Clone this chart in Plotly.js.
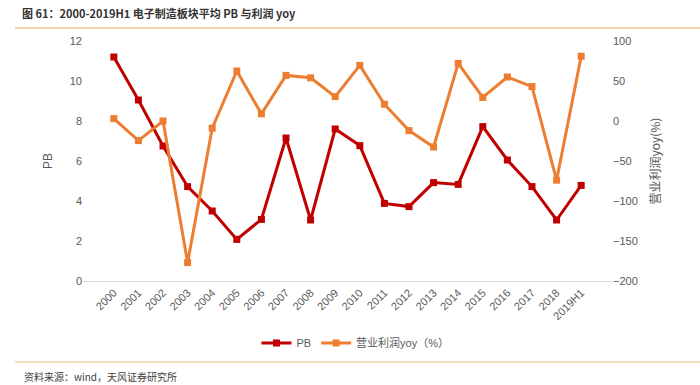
<!DOCTYPE html>
<html>
<head>
<meta charset="utf-8">
<script src="https://cdn.plot.ly/plotly-3.0.1.min.js"></script>
<style>html,body{margin:0;padding:0;background:#fff;}#chart{width:700px;height:385px;}</style>
</head>
<body>
<div id="chart"></div>
<script>
const years = ["2000","2001","2002","2003","2004","2005","2006","2007","2008","2009","2010","2011","2012","2013","2014","2015","2016","2017","2018","2019H1"];
const pbValues = [11.2, 9.05, 6.75, 4.72, 3.5, 2.08, 3.08, 7.15, 3.05, 7.6, 6.77, 3.88, 3.72, 4.92, 4.83, 7.72, 6.05, 4.72, 3.05, 4.78];
const profitYoy = [3, -24.5, 0, -177, -9, 62.5, 9, 57, 54, 30.5, 69.5, 21, -12, -32.5, 72, 29.5, 55, 43, -74, 81];

const textColor = '#595959';
const font = "'Liberation Sans', Arial, 'Noto Sans CJK SC', sans-serif";

const traces = [
  {
    x: years, y: pbValues, name: 'PB', type: 'scatter', mode: 'lines+markers',
    line: {color: '#C00000', width: 3},
    marker: {symbol: 'square', size: 7, color: '#C00000'},
    yaxis: 'y'
  },
  {
    x: years, y: profitYoy, name: '营业利润yoy（%）', type: 'scatter', mode: 'lines+markers',
    line: {color: '#ED7D31', width: 3},
    marker: {symbol: 'square', size: 7, color: '#ED7D31'},
    yaxis: 'y2'
  }
];

const layout = {
  width: 700, height: 385,
  margin: {l: 83, r: 88, t: 41, b: 104},
  paper_bgcolor: '#ffffff', plot_bgcolor: '#ffffff',
  font: {family: font, size: 11, color: textColor},
  showlegend: true,
  legend: {orientation: 'h', x: 0.515, xanchor: 'center', y: -0.258, yanchor: 'middle',
           font: {size: 11, color: textColor}, itemwidth: 30, tracegroupgap: 0},
  title: {text: '<b>图 61：2000-2019H1 电子制造板块平均 PB 与利润 yoy</b>',
          x: 22/700, xanchor: 'left', xref: 'container', y: 1 - 14/385, yref: 'container', yanchor: 'middle',
          font: {family: "'Noto Sans CJK SC', sans-serif", size: 11, color: '#333333'}},
  xaxis: {
    type: 'category', tickangle: -45, showgrid: false, zeroline: false,
    showline: true, linecolor: '#d9d9d9', linewidth: 1, ticks: '',
    tickfont: {size: 11, color: textColor}
  },
  yaxis: {
    range: [0, 12], dtick: 2, showgrid: false, zeroline: false, showline: false, ticks: '',
    tickfont: {size: 11, color: textColor},
    title: {text: 'PB', font: {size: 12, color: textColor}, standoff: 14}
  },
  yaxis2: {
    overlaying: 'y', side: 'right', range: [-200, 100], dtick: 50,
    showgrid: false, zeroline: false, showline: false, ticks: '',
    tickfont: {size: 11, color: textColor},
    title: {text: '营业利润yoy(%)', font: {family: "'Noto Sans CJK SC', sans-serif", size: 12, color: textColor}, standoff: 14}
  },
  shapes: [
    {type: 'line', xref: 'paper', yref: 'paper', x0: (15-83)/529, x1: (700-83)/529, y0: (281-28)/240, y1: (281-28)/240,
     line: {color: '#F3C690', width: 1.5}},
    {type: 'line', xref: 'paper', yref: 'paper', x0: (15-83)/529, x1: (700-83)/529, y0: (281-362)/240, y1: (281-362)/240,
     line: {color: '#F5CFAE', width: 1.5}}
  ],
  annotations: [
    {text: '资料来源：wind，天风证券研究所', xref: 'paper', yref: 'paper', x: (22-83)/529, y: (281-376)/240,
     xanchor: 'left', yanchor: 'middle', showarrow: false,
     font: {family: "'Noto Sans CJK SC', sans-serif", size: 10, color: '#404040'}}
  ]
};

Plotly.newPlot('chart', traces, layout, {displayModeBar: false, staticPlot: true});
</script>
</body>
</html>
